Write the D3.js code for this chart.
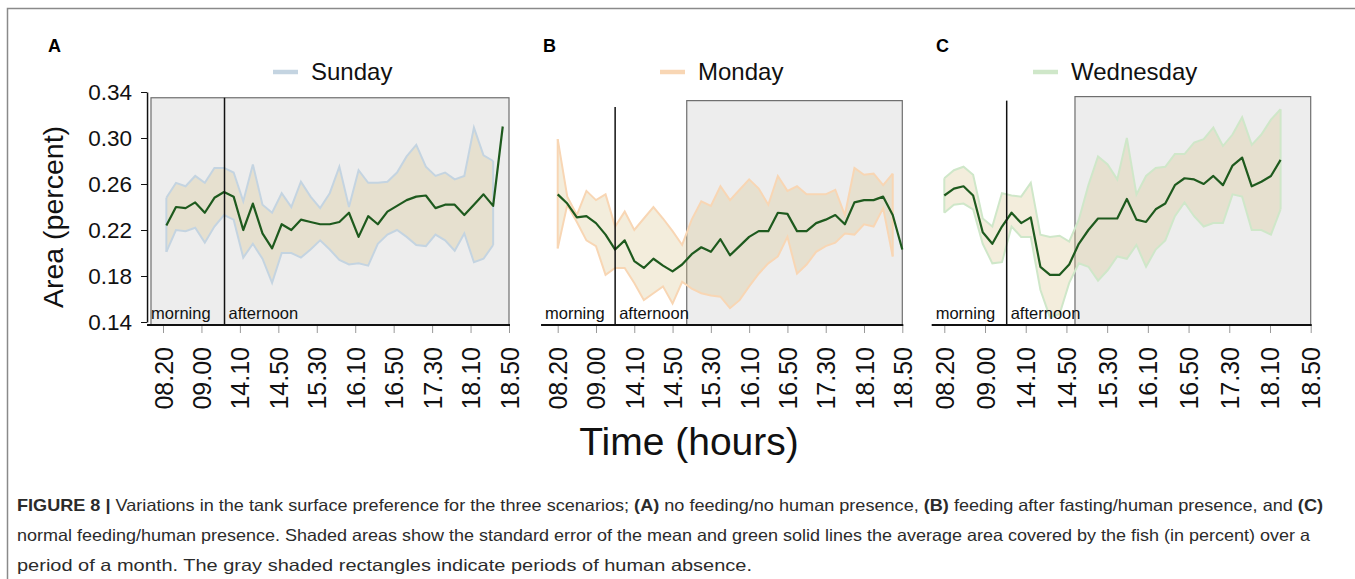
<!DOCTYPE html>
<html>
<head>
<meta charset="utf-8">
<script src="https://cdn.jsdelivr.net/npm/d3@7"></script>
<style>
  body { margin: 0; background: #fff; }
  svg { display: block; font-family: "Liberation Sans", Arial, sans-serif; }
</style>
</head>
<body>
<svg id="chart" width="1355" height="579"></svg>
<script>
// tick labels
var timeTicks = ["08.20","09.00","14.10","14.50","15.30","16.10","16.50","17.30","18.10","18.50"];
var yTicks = [0.14, 0.18, 0.22, 0.26, 0.30, 0.34];

// A - Sunday
var sundayMean  = [0.224,0.240,0.239,0.244,0.235,0.248,0.253,0.249,0.220,0.243,0.217,0.204,0.225,0.220,0.229,0.227,0.225,0.225,0.227,0.235,0.214,0.232,0.225,0.236,0.241,0.246,0.249,0.250,0.239,0.242,0.242,0.233,0.242,0.251,0.241,0.310];
var sundayUpper = [0.248,0.261,0.258,0.267,0.261,0.274,0.274,0.270,0.245,0.277,0.242,0.235,0.252,0.240,0.262,0.249,0.239,0.252,0.275,0.240,0.272,0.261,0.261,0.262,0.270,0.284,0.294,0.275,0.267,0.270,0.264,0.267,0.309,0.285,0.280,null];
var sundayLower = [0.201,0.220,0.219,0.222,0.209,0.223,0.233,0.229,0.196,0.208,0.195,0.174,0.200,0.200,0.196,0.203,0.211,0.203,0.194,0.190,0.191,0.189,0.208,0.216,0.220,0.214,0.207,0.206,0.216,0.211,0.202,0.217,0.192,0.195,0.207,null];

// B - Monday
var mondayMean  = [0.251,0.243,0.231,0.232,0.226,0.216,0.203,0.211,0.193,0.187,0.195,0.189,0.184,0.190,0.199,0.205,0.201,0.212,0.198,0.206,0.214,0.219,0.219,0.235,0.234,0.219,0.219,0.226,0.229,0.233,0.225,0.244,0.246,0.246,0.249,0.233,0.203];
var mondayUpper = [0.299,0.249,0.233,0.254,0.246,0.251,0.223,0.236,0.220,0.230,0.240,0.230,0.219,0.207,0.229,0.245,0.241,0.258,0.246,0.255,0.264,0.256,0.242,0.267,0.254,0.258,0.251,0.251,0.251,0.255,0.233,0.274,0.268,0.269,0.259,0.269,null];
var mondayLower = [0.204,0.242,0.227,0.211,0.206,0.181,0.187,0.187,0.174,0.159,0.165,0.171,0.156,0.175,0.169,0.165,0.163,0.162,0.152,0.159,0.171,0.182,0.191,0.197,0.214,0.182,0.190,0.201,0.206,0.209,0.217,0.216,0.225,0.223,0.239,0.197,null];

// C - Wednesday
var wednesdayMean  = [0.250,0.256,0.258,0.250,0.218,0.208,0.223,0.235,0.226,0.231,0.188,0.181,0.181,0.190,0.208,0.220,0.230,0.230,0.230,0.247,0.229,0.227,0.238,0.243,0.259,0.265,0.264,0.260,0.267,0.259,0.276,0.283,0.258,0.262,0.267,0.281];
var wednesdayUpper = [0.265,0.272,0.275,0.268,0.230,0.223,0.252,0.250,0.249,0.261,0.216,0.214,0.215,0.210,0.229,0.259,0.284,0.277,0.264,0.300,0.251,0.267,0.274,0.275,0.286,0.286,0.296,0.299,0.309,0.293,0.303,0.318,0.294,0.303,0.316,0.325];
var wednesdayLower = [0.235,0.242,0.243,0.238,0.208,0.191,0.192,0.223,0.214,0.214,0.168,0.144,0.147,0.174,0.191,0.188,0.176,0.185,0.197,0.195,0.207,0.188,0.203,0.211,0.232,0.244,0.232,0.223,0.226,0.226,0.251,0.249,0.220,0.220,0.216,0.238];

var svg = d3.select("#chart");

var axis_y = 325;
var y_scale = d3.scaleLinear().domain([0.14, 0.34]).range([322, 92]);

// frame
svg.append("path")
    .attr("d", "M7.5,579 V8.5 H1355")
    .attr("fill", "none")
    .attr("stroke", "#8a8a8a")
    .attr("stroke-width", 1.5);

var panels = [
    {letter: "A", letterX: 48, name: "Sunday", color: "#c4d4e1",
     mean: sundayMean, upper: sundayUpper, lower: sundayLower,
     x0: 163, x1: 509, offset: 0.35, step: 1, axisFrom: -1.66,
     split: 6.4, splitTop: 0.335, rectFrom: -1.25, rectTop: 0.335,
     legendX: 273, yAxis: true},
    {letter: "B", letterX: 543, name: "Monday", color: "#f8d6b4",
     mean: mondayMean, upper: mondayUpper, lower: mondayLower,
     x0: 557.7, x1: 902.3, offset: 0, step: 1, axisFrom: -1.74,
     split: 6.0, splitTop: 0.327, rectFrom: 13.48, rectTop: 0.3325,
     legendX: 660, yAxis: false},
    {letter: "C", letterX: 936, name: "Wednesday", color: "#cfe7c9",
     mean: wednesdayMean, upper: wednesdayUpper, lower: wednesdayLower,
     x0: 944.3, x1: 1310.7, offset: 0, step: 0.944, axisFrom: -1.24,
     split: 6.13, splitTop: 0.3325, rectFrom: 12.84, rectTop: 0.336,
     legendX: 1033, yAxis: false}
];

panels.forEach(function(p) {
    var x_scale = d3.scaleLinear().domain([0, 36]).range([p.x0, p.x1]);
    var xPos = function(i) { return x_scale(p.offset + i * p.step); };
    var g = svg.append("g");

    // human absence rectangle
    g.append("rect")
        .attr("x", x_scale(p.rectFrom))
        .attr("y", y_scale(p.rectTop))
        .attr("width", x_scale(36) - x_scale(p.rectFrom))
        .attr("height", axis_y - y_scale(p.rectTop))
        .attr("fill", "#ededed")
        .attr("stroke", "#6e6e6e")
        .attr("stroke-width", 1.2);

    // standard error band
    var band = d3.area()
        .defined(function(d, i) { return p.upper[i] != null; })
        .x(function(d, i) { return xPos(i); })
        .y0(function(d, i) { return y_scale(p.lower[i]); })
        .y1(function(d, i) { return y_scale(p.upper[i]); });
    g.append("path")
        .attr("d", band(p.mean))
        .attr("fill", "rgba(214,194,140,0.3)")
        .attr("stroke", "none");

    var edge = function(arr) {
        return d3.line()
            .defined(function(d) { return d != null; })
            .x(function(d, i) { return xPos(i); })
            .y(function(d) { return y_scale(d); })(arr);
    };
    [p.upper, p.lower].forEach(function(arr) {
        g.append("path")
            .attr("d", edge(arr))
            .attr("fill", "none")
            .attr("stroke", p.color)
            .attr("stroke-width", 2);
    });
    // closing edges of the band
    var n = p.upper.filter(function(d) { return d != null; }).length;
    [0, n - 1].forEach(function(i) {
        g.append("line")
            .attr("x1", xPos(i)).attr("x2", xPos(i))
            .attr("y1", y_scale(p.upper[i])).attr("y2", y_scale(p.lower[i]))
            .attr("stroke", p.color)
            .attr("stroke-width", 2);
    });

    // mean line
    g.append("path")
        .attr("d", edge(p.mean))
        .attr("fill", "none")
        .attr("stroke", "#1e5a1e")
        .attr("stroke-width", 2.2)
        .attr("stroke-linejoin", "round");

    // morning / afternoon split
    g.append("line")
        .attr("x1", x_scale(p.split)).attr("x2", x_scale(p.split))
        .attr("y1", y_scale(p.splitTop)).attr("y2", axis_y)
        .attr("stroke", "#111")
        .attr("stroke-width", 1.5);

    g.append("text")
        .attr("x", x_scale(p.axisFrom) + 4)
        .attr("y", 319)
        .attr("font-size", 16.5)
        .attr("fill", "#111")
        .text("morning");
    g.append("text")
        .attr("x", x_scale(p.split) + 4)
        .attr("y", 319)
        .attr("font-size", 16.5)
        .attr("fill", "#111")
        .text("afternoon");

    // x axis
    var x_axis = d3.axisBottom(x_scale)
        .tickValues(d3.range(0, 37, 4))
        .tickFormat(function(d, i) { return timeTicks[i]; })
        .tickSize(8)
        .tickSizeOuter(0);
    var xa = g.append("g")
        .attr("transform", "translate(0," + axis_y + ")")
        .call(x_axis);
    xa.select(".domain").remove();
    xa.selectAll(".tick line").attr("stroke", "#999").attr("stroke-width", 1);
    xa.selectAll(".tick text")
        .attr("transform", "rotate(-90)")
        .attr("x", -22)
        .attr("y", 0)
        .attr("dy", "0.36em")
        .attr("text-anchor", "end")
        .attr("font-size", 25)
        .attr("font-family", "Liberation Sans, Arial, sans-serif")
        .attr("fill", "#111");
    g.append("line")
        .attr("x1", x_scale(p.axisFrom)).attr("x2", x_scale(36) + 1)
        .attr("y1", axis_y).attr("y2", axis_y)
        .attr("stroke", "#111")
        .attr("stroke-width", 2);

    // y axis (panel A only)
    if (p.yAxis) {
        var y_axis = d3.axisLeft(y_scale)
            .tickValues(yTicks)
            .tickFormat(d3.format(".2f"))
            .tickSize(6)
            .tickSizeOuter(0);
        var ya = g.append("g")
            .attr("transform", "translate(" + x_scale(p.axisFrom) + ",0)")
            .call(y_axis);
        ya.select(".domain").attr("stroke", "#111").attr("stroke-width", 1.5);
        ya.selectAll(".tick line").attr("stroke", "#111");
        ya.selectAll(".tick text")
            .attr("x", -15)
            .attr("font-size", 22.5)
            .attr("font-family", "Liberation Sans, Arial, sans-serif")
            .attr("fill", "#111");
    }

    // legend
    g.append("line")
        .attr("x1", p.legendX).attr("x2", p.legendX + 25)
        .attr("y1", 72).attr("y2", 72)
        .attr("stroke", p.color)
        .attr("stroke-width", 4.5);
    g.append("text")
        .attr("x", p.legendX + 38)
        .attr("y", 80)
        .attr("font-size", 24)
        .attr("fill", "#111")
        .text(p.name);

    // panel letter
    g.append("text")
        .attr("x", p.letterX)
        .attr("y", 52)
        .attr("font-size", 18)
        .attr("font-weight", "bold")
        .attr("fill", "#000")
        .text(p.letter);
});

svg.append("text")
    .attr("transform", "translate(63,217) rotate(-90)")
    .attr("text-anchor", "middle")
    .attr("font-size", 28.5)
    .attr("fill", "#111")
    .text("Area (percent)");

svg.append("text")
    .attr("x", 689)
    .attr("y", 455)
    .attr("text-anchor", "middle")
    .attr("font-size", 39)
    .attr("fill", "#111")
    .text("Time (hours)");

// caption
var caption = [
    [["FIGURE 8 | ", true], ["Variations in the tank surface preference for the three scenarios; ", false], ["(A)", true],
     [" no feeding/no human presence, ", false], ["(B)", true], [" feeding after fasting/human presence, and ", false], ["(C)", true]],
    [["normal feeding/human presence. Shaded areas show the standard error of the mean and green solid lines the average area covered by the fish (in percent) over a", false]],
    [["period of a month. The gray shaded rectangles indicate periods of human absence.", false]]
];
var captionWidth = [1306, 1293, 735];
caption.forEach(function(line, li) {
    var t = svg.append("text")
        .attr("x", 17)
        .attr("y", 511 + li * 30)
        .attr("font-size", 16.5)
        .attr("fill", "#2b2b2b")
        .attr("textLength", captionWidth[li])
        .attr("lengthAdjust", "spacingAndGlyphs");
    line.forEach(function(seg) {
        t.append("tspan")
            .attr("font-weight", seg[1] ? "bold" : "normal")
            .text(seg[0]);
    });
});
</script>
</body>
</html>
